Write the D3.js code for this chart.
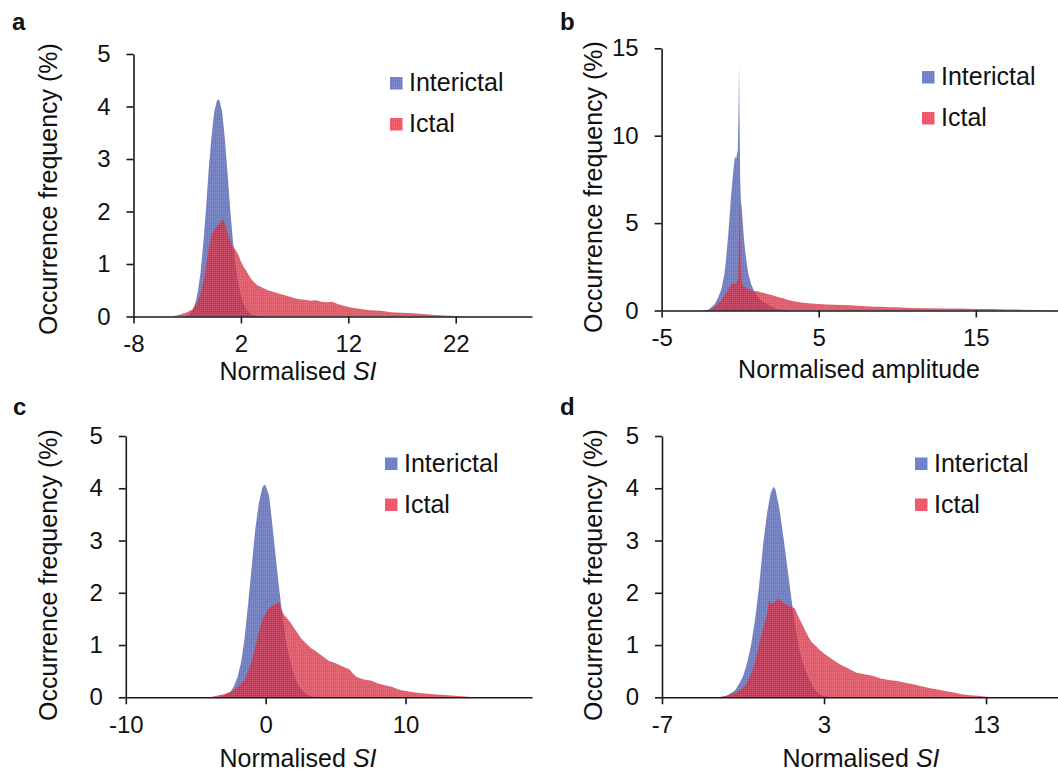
<!DOCTYPE html>
<html>
<head>
<meta charset="utf-8">
<script src="https://cdn.jsdelivr.net/npm/d3@7"></script>
<style type="text/css">
  body{
    margin: 0px;
    background: white;
  }
  svg text{
    font-family: 'Liberation Sans', Arial, sans-serif;
    fill: #111;
  }
  .axis path,
  .axis line{
    stroke: #1a1a1a;
    stroke-width: 1.6px;
    fill: none;
  }
  .axis text{
    font-size: 24px;
  }
</style>
</head>
<body>
<svg id="chart" width="1058" height="771"></svg>
<script>

// ---- data, [x, occurrence %] ----

// a : normalised SI
var aInterictal = [[-3.5,0],[-3,0.02],[-2.75,0.05],[-2.5,0.11],[-2.25,0.25],[-2,0.48],[-1.75,0.85],[-1.5,1.4],[-1.25,2.05],[-1,2.8],[-0.75,3.4],[-0.5,3.88],[-0.25,4.1],[-0.1,4.14],[0,4.12],[0.25,3.9],[0.5,3.4],[0.75,2.75],[1,2.05],[1.25,1.45],[1.5,0.98],[1.75,0.64],[2,0.4],[2.25,0.24],[2.5,0.14],[2.75,0.08],[3,0.04],[3.5,0.01],[4,0]];
var aIctal = [[-4.5,0],[-4,0.02],[-3.5,0.05],[-3,0.08],[-2.5,0.14],[-2,0.3],[-1.75,0.45],[-1.5,0.65],[-1.25,0.95],[-1,1.3],[-0.75,1.55],[-0.5,1.65],[-0.25,1.72],[0,1.76],[0.2,1.82],[0.35,1.85],[0.5,1.78],[0.7,1.62],[0.9,1.5],[1.1,1.4],[1.3,1.32],[1.5,1.27],[1.75,1.18],[2,1.05],[2.25,0.95],[2.5,0.87],[2.75,0.78],[3,0.7],[3.5,0.6],[4,0.55],[4.5,0.5],[5,0.47],[5.5,0.44],[6,0.41],[6.5,0.38],[7,0.35],[7.5,0.33],[8,0.32],[8.5,0.3],[9,0.31],[9.5,0.28],[10,0.27],[10.5,0.28],[11,0.24],[11.5,0.21],[12,0.18],[12.5,0.16],[13,0.15],[14,0.12],[15,0.11],[16,0.08],[17,0.07],[18,0.06],[19,0.05],[20,0.03],[21,0.02],[22,0.01],[23,0]];

// b : normalised amplitude
var bInterictal = [[-2.5,0],[-2,0.05],[-1.6,0.38],[-1.4,0.75],[-1.2,1.2],[-1,2.1],[-0.9,2.9],[-0.8,3.9],[-0.7,5],[-0.6,6.3],[-0.5,7.4],[-0.4,8.3],[-0.33,8.8],[-0.25,8.7],[-0.15,9.2],[-0.1,11.5],[-0.07,14.1],[-0.04,11],[0,7.5],[0.05,6.2],[0.1,5.9],[0.25,4],[0.4,2.8],[0.52,2.1],[0.7,1.5],[0.88,1.15],[1.1,0.8],[1.3,0.6],[1.5,0.48],[1.7,0.38],[2,0.22],[2.3,0.1],[2.7,0.04],[3.2,0]];
var bIctal = [[-2.5,0],[-2.1,0.03],[-1.8,0.12],[-1.5,0.3],[-1.25,0.55],[-1,0.85],[-0.75,1.22],[-0.55,1.5],[-0.4,1.55],[-0.25,1.5],[-0.12,1.9],[-0.06,4.5],[-0.03,6.8],[0,5.5],[0.03,3],[0.08,1.7],[0.2,1.4],[0.4,1.28],[0.6,1.2],[0.84,1.08],[1.05,1.12],[1.25,1.06],[1.5,1],[1.75,0.95],[2,0.88],[2.25,0.82],[2.5,0.75],[2.75,0.7],[3,0.62],[3.5,0.52],[4,0.45],[4.5,0.4],[5,0.37],[5.5,0.34],[6,0.33],[6.5,0.31],[7,0.3],[7.5,0.27],[8,0.24],[8.5,0.22],[9,0.21],[9.5,0.19],[10,0.18],[10.5,0.16],[11,0.15],[12,0.13],[13,0.12],[14,0.11],[15,0.09],[16,0.08],[17,0.06],[18,0.05],[19,0.03],[20,0.02],[20.2,0.02]];

// c : normalised SI
var cInterictal = [[-3.5,0],[-3,0.03],[-2.5,0.11],[-2.25,0.22],[-2,0.4],[-1.75,0.68],[-1.5,1.15],[-1.25,1.8],[-1,2.5],[-0.75,3.2],[-0.5,3.7],[-0.25,4],[-0.1,4.07],[0,4.05],[0.25,3.85],[0.5,3.25],[0.75,2.6],[1,2],[1.25,1.45],[1.5,1],[1.75,0.7],[2,0.45],[2.25,0.28],[2.5,0.16],[2.75,0.09],[3,0.04],[3.5,0.01],[4,0]];
var cIctal = [[-4,0],[-3.5,0.03],[-3,0.06],[-2.5,0.1],[-2,0.19],[-1.5,0.33],[-1.25,0.5],[-1,0.68],[-0.75,0.95],[-0.5,1.25],[-0.25,1.48],[0,1.62],[0.25,1.71],[0.5,1.75],[0.75,1.79],[0.97,1.83],[1.1,1.7],[1.3,1.58],[1.5,1.52],[1.75,1.44],[2,1.34],[2.25,1.24],[2.5,1.14],[2.75,1.07],[3,1],[3.25,0.94],[3.5,0.9],[3.75,0.85],[4,0.8],[4.5,0.7],[5,0.65],[5.5,0.59],[6,0.53],[6.25,0.45],[6.5,0.39],[7,0.34],[7.5,0.32],[8,0.27],[8.5,0.23],[9,0.2],[9.5,0.15],[10,0.12],[10.5,0.1],[11,0.08],[12,0.06],[13,0.04],[14,0.02],[15,0]];

// d : normalised SI
var dInterictal = [[-3.5,0],[-3,0.03],[-2.5,0.13],[-2.25,0.25],[-2,0.4],[-1.75,0.65],[-1.5,1],[-1.25,1.5],[-1,2.15],[-0.75,2.95],[-0.5,3.55],[-0.3,3.9],[-0.13,4.03],[0,3.98],[0.25,3.6],[0.5,3.05],[0.75,2.45],[1,1.85],[1.25,1.3],[1.5,0.88],[1.75,0.6],[2,0.4],[2.25,0.24],[2.5,0.12],[2.75,0.06],[3,0.02],[3.5,0]];
var dIctal = [[-3.5,0],[-3,0.03],[-2.5,0.08],[-2,0.18],[-1.75,0.27],[-1.5,0.45],[-1.25,0.68],[-1,1.03],[-0.75,1.33],[-0.5,1.62],[-0.4,1.86],[-0.3,1.8],[-0.2,1.79],[0,1.84],[0.2,1.89],[0.4,1.83],[0.6,1.79],[0.8,1.75],[1,1.73],[1.2,1.7],[1.4,1.55],[1.6,1.43],[1.8,1.3],[2,1.18],[2.25,1.05],[2.5,0.98],[2.75,0.9],[3,0.84],[3.5,0.73],[4,0.63],[4.5,0.55],[5,0.47],[5.5,0.44],[6,0.41],[6.5,0.36],[7,0.33],[7.5,0.31],[8,0.28],[8.5,0.25],[9,0.21],[9.5,0.18],[10,0.15],[10.5,0.12],[11,0.09],[11.5,0.06],[12,0.04],[12.5,0.03],[13,0.01],[13.5,0]];

var seriesNames = ['Interictal', 'Ictal'];
var xTicksA = [-8, 2, 12, 22];
var xTicksB = [-5, 5, 15];
var xTicksC = [-10, 0, 10];
var xTicksD = [-7, 3, 13];
var yTicksSI = [0, 1, 2, 3, 4, 5];
var yTicksAmp = [0, 5, 10, 15];

// ---- layout ----

var panels = [
  { letter: 'a', lx: 12, ly: 30, xDom: [-8, 29.1], yMax: 5, xr: [133.5, 532], yr: [316.5, 54],
    xTicks: xTicksA, yTicks: yTicksSI, inter: aInterictal, ictal: aIctal,
    title: 'si', tx: 298, ty: 380, yl: [57, 189], leg: [390, 77] },
  { letter: 'b', lx: 560, ly: 30, xDom: [-5, 20.23], yMax: 15, xr: [661.6, 1058], yr: [310.5, 48.3],
    xTicks: xTicksB, yTicks: yTicksAmp, inter: bInterictal, ictal: bIctal,
    title: 'amp', tx: 859, ty: 378, yl: [602, 187], leg: [922, 71] },
  { letter: 'c', lx: 13, ly: 415, xDom: [-10, 19.04], yMax: 5, xr: [125.8, 532], yr: [697.3, 436],
    xTicks: xTicksC, yTicks: yTicksSI, inter: cInterictal, ictal: cIctal,
    title: 'si', tx: 298, ty: 767, yl: [57, 575], leg: [385, 457.5] },
  { letter: 'd', lx: 560, ly: 415, xDom: [-7, 17.44], yMax: 5, xr: [662, 1058], yr: [697.3, 436],
    xTicks: xTicksD, yTicks: yTicksSI, inter: dInterictal, ictal: dIctal,
    title: 'si', tx: 861, ty: 767, yl: [602, 575], leg: [915, 457.5] }
];

var blue = '#5566bb';
var red = '#e3243a';

var svg = d3.select('#chart');

// fine dotted texture like the original fills
var defs = svg.append('defs');
[['texBlue', blue], ['texRed', red]].forEach(function(p) {
  var pat = defs.append('pattern')
    .attr('id', p[0])
    .attr('width', 2).attr('height', 2)
    .attr('patternUnits', 'userSpaceOnUse');
  pat.append('rect').attr('width', 2).attr('height', 2).attr('fill', p[1]);
  pat.append('rect').attr('width', 1).attr('height', 1).attr('fill', '#fff').attr('opacity', 0.15);
});

// plain hyphen minus like the original, not the unicode minus
function fmt(d) { return String(d); }

function drawPanel(p) {

  var x = d3.scaleLinear().domain(p.xDom).range(p.xr);
  var y = d3.scaleLinear().domain([0, p.yMax]).range(p.yr);

  var g = svg.append('g');

  var area = d3.area()
    .x(function(d) { return x(d[0]); })
    .y0(y(0))
    .y1(function(d) { return y(d[1]); });

  g.append('path')
    .datum(p.inter)
    .attr('d', area)
    .attr('fill', 'url(#texBlue)')
    .attr('opacity', 0.85);

  g.append('path')
    .datum(p.ictal)
    .attr('d', area)
    .attr('fill', 'url(#texRed)')
    .attr('opacity', 0.77);

  // axes
  g.append('g')
    .attr('class', 'axis')
    .attr('transform', 'translate(0,' + y(0) + ')')
    .call(d3.axisBottom(x).tickValues(p.xTicks).tickSize(7).tickSizeOuter(0).tickPadding(11.5).tickFormat(fmt));

  g.append('g')
    .attr('class', 'axis')
    .attr('transform', 'translate(' + x(p.xDom[0]) + ',0)')
    .call(d3.axisLeft(y).tickValues(p.yTicks).tickSize(7).tickSizeOuter(0).tickPadding(16).tickFormat(fmt));

  g.selectAll('.axis text')
    .style('font-family', "'Liberation Sans', Arial, sans-serif")
    .attr('fill', '#111');

  // panel letter
  g.append('text')
    .attr('x', p.lx).attr('y', p.ly)
    .style('font-size', '24px')
    .style('font-weight', 'bold')
    .text(p.letter);

  // y title
  g.append('text')
    .attr('transform', 'translate(' + p.yl[0] + ',' + p.yl[1] + ') rotate(-90)')
    .attr('text-anchor', 'middle')
    .style('font-size', '25px')
    .text('Occurrence frequency (%)');

  // x title
  var xt = g.append('text')
    .attr('x', p.tx).attr('y', p.ty)
    .attr('text-anchor', 'middle')
    .style('font-size', '25px');
  if (p.title == 'si') {
    xt.append('tspan').text('Normalised ');
    xt.append('tspan').style('font-style', 'italic').text('SI');
  } else {
    xt.text('Normalised amplitude');
  }

  // legend
  var leg = g.append('g').attr('transform', 'translate(' + p.leg[0] + ',' + p.leg[1] + ')');
  seriesNames.forEach(function(name, i) {
    leg.append('rect')
      .attr('x', 0).attr('y', i * 41)
      .attr('width', 12.5).attr('height', 12.5)
      .attr('fill', i == 0 ? 'url(#texBlue)' : 'url(#texRed)')
      .attr('opacity', i == 0 ? 0.85 : 0.77);
    leg.append('text')
      .attr('x', 19).attr('y', i * 41 + 14)
      .style('font-size', '25px')
      .text(name);
  });
}

panels.forEach(drawPanel);

</script>
</body>
</html>
